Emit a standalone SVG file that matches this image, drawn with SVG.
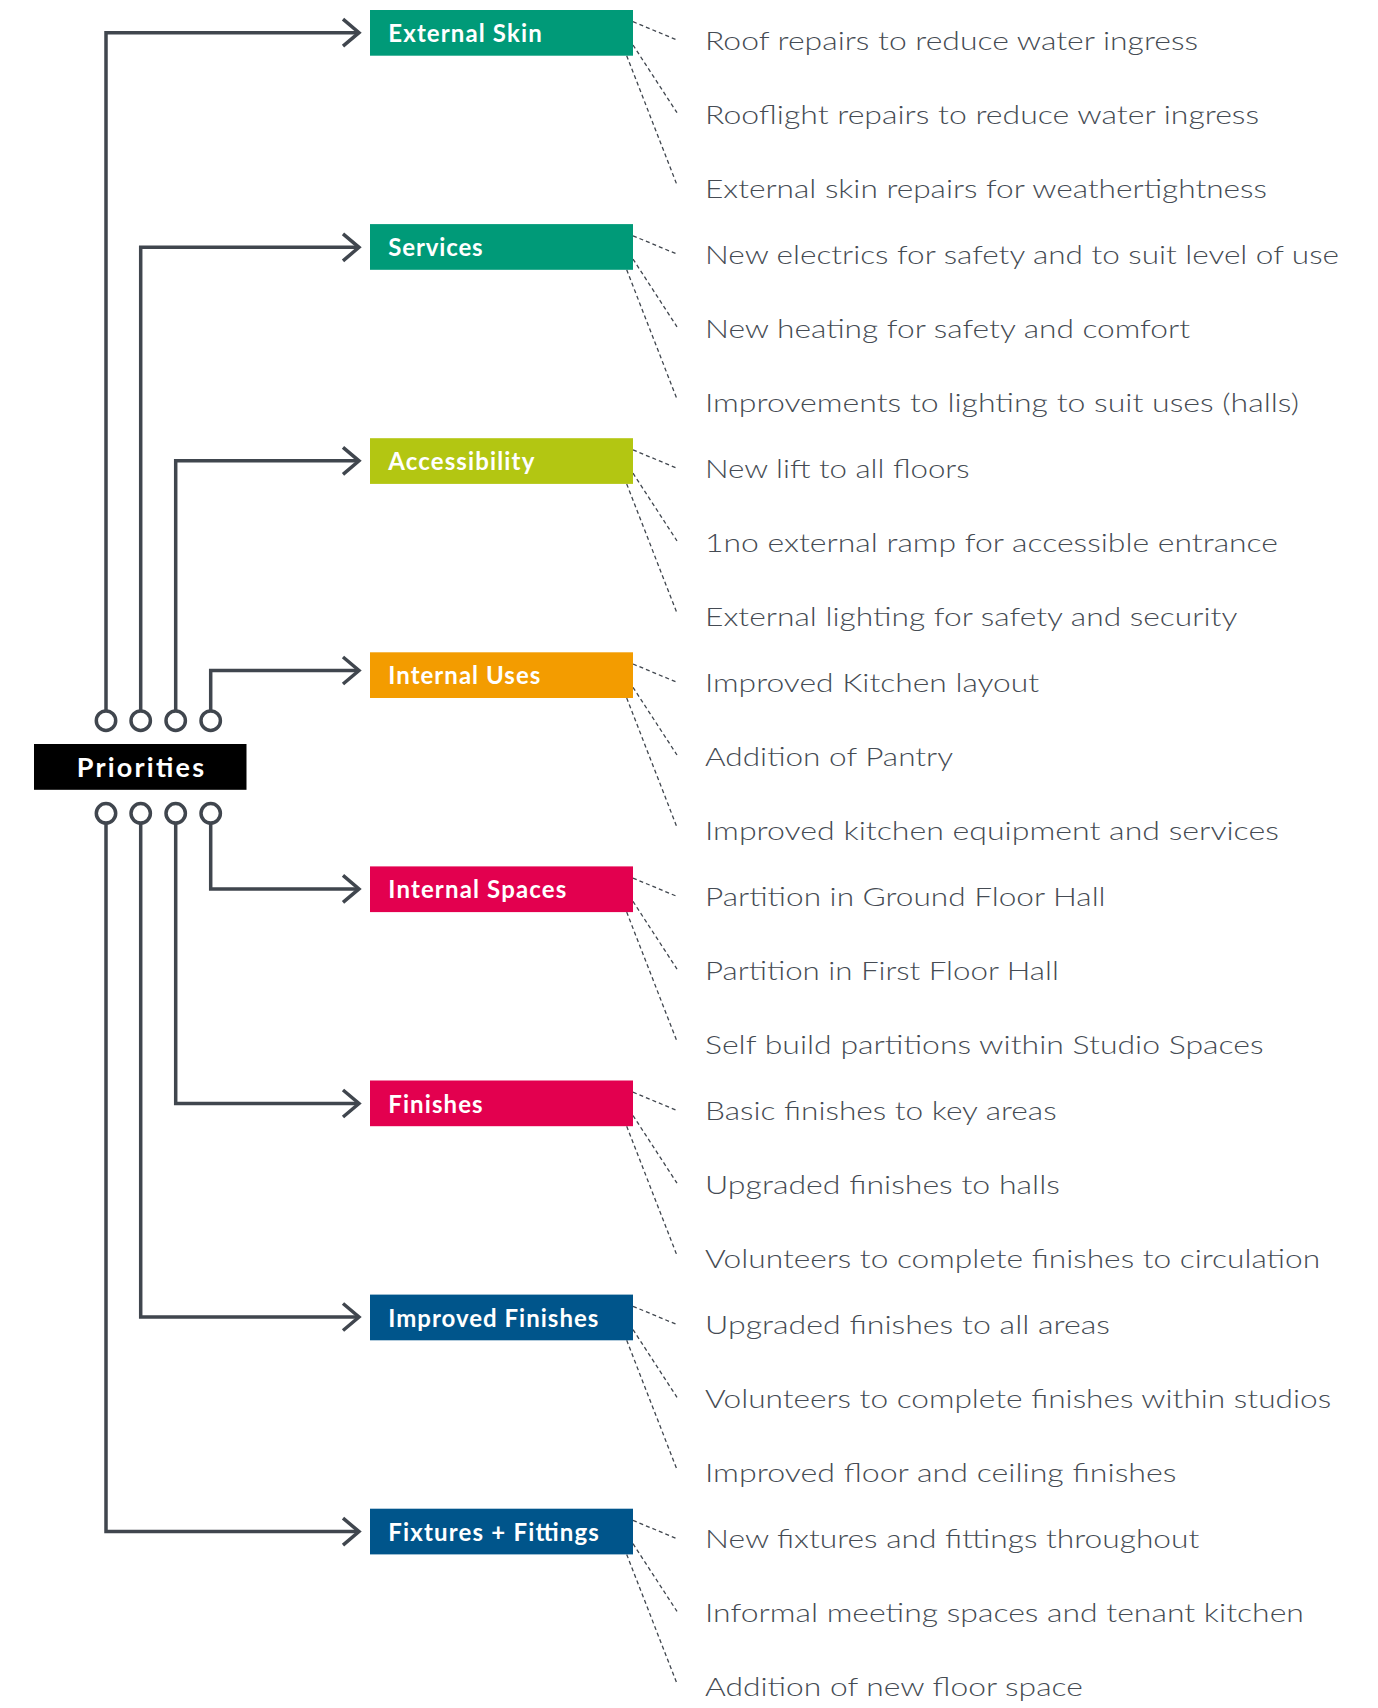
<svg xmlns="http://www.w3.org/2000/svg" width="1378" height="1708" viewBox="0 0 1378 1708">
<style>
.bg{fill:#ffffff}
.wire{fill:none;stroke:#40464e;stroke-width:3.5;stroke-linejoin:miter}
.pin{fill:#ffffff;stroke:#40464e;stroke-width:3.5}
.dash{fill:none;stroke:#40464e;stroke-width:1.3;stroke-dasharray:4 3}
.lbl{font-family:Lato,"Open Sans","Liberation Sans",sans-serif;font-weight:700;font-size:24px;fill:#ffffff}
.root{font-family:Lato,"Open Sans","Liberation Sans",sans-serif;font-weight:700;font-size:27px;fill:#ffffff}
.item{font-family:Lato,"Open Sans","Liberation Sans",sans-serif;font-weight:300;font-size:25.5px;fill:#454b53}
.green{fill:#009a78}.lime{fill:#b3c612}.orange{fill:#f39c00}.red{fill:#e3004f}.blue{fill:#00558b}
</style>
<defs>
<marker id="chev" markerUnits="userSpaceOnUse" markerWidth="24" markerHeight="34" refX="20" refY="16" orient="auto" viewBox="0 0 24 34">
<path d="M4,2.5 L20,16 L4,29.5" fill="none" stroke="#40464e" stroke-width="3.5"/>
</marker>
</defs>
<rect class="bg" x="0" y="0" width="1378" height="1708"/>

<g id="connectors">
<path class="wire" marker-end="url(#chev)" d="M106,711 V32.7 H359"/>
<path class="wire" marker-end="url(#chev)" d="M140.7,711 V247.3 H359"/>
<path class="wire" marker-end="url(#chev)" d="M175.7,711 V460.8 H359"/>
<path class="wire" marker-end="url(#chev)" d="M210.7,711 V670.5 H359"/>
<path class="wire" marker-end="url(#chev)" d="M210.7,823 V888.9 H359"/>
<path class="wire" marker-end="url(#chev)" d="M175.7,823 V1103.5 H359"/>
<path class="wire" marker-end="url(#chev)" d="M140.7,823 V1317 H359"/>
<path class="wire" marker-end="url(#chev)" d="M106,823 V1531.6 H359"/>
<circle class="pin" cx="106" cy="720.7" r="9.7"/>
<circle class="pin" cx="140.7" cy="720.7" r="9.7"/>
<circle class="pin" cx="175.7" cy="720.7" r="9.7"/>
<circle class="pin" cx="210.7" cy="720.7" r="9.7"/>
<circle class="pin" cx="106" cy="813.3" r="9.7"/>
<circle class="pin" cx="140.7" cy="813.3" r="9.7"/>
<circle class="pin" cx="175.7" cy="813.3" r="9.7"/>
<circle class="pin" cx="210.7" cy="813.3" r="9.7"/>
<g id="dashes">
<path class="dash" d="M633,21.7 L677,40 M633,45 L677,112.7 M626.7,55.7 L677,185"/>
<path class="dash" d="M633,235.8 L677,254.1 M633,259.1 L677,326.8 M626.7,269.8 L677,399.1"/>
<path class="dash" d="M633,449.9 L677,468.2 M633,473.2 L677,540.9 M626.7,483.9 L677,613.2"/>
<path class="dash" d="M633,664 L677,682.3 M633,687.3 L677,755 M626.7,698 L677,827.3"/>
<path class="dash" d="M633,878.1 L677,896.4 M633,901.4 L677,969.1 M626.7,912.1 L677,1041.4"/>
<path class="dash" d="M633,1092.2 L677,1110.5 M633,1115.5 L677,1183.2 M626.7,1126.2 L677,1255.5"/>
<path class="dash" d="M633,1306.3 L677,1324.6 M633,1329.6 L677,1397.3 M626.7,1340.3 L677,1469.6"/>
<path class="dash" d="M633,1520.4 L677,1538.7 M633,1543.7 L677,1611.4 M626.7,1554.4 L677,1683.7"/>
</g>
</g>

<g id="priorities">
<rect x="34" y="744" width="212.5" height="45.8" fill="#000000"/>
<text class="root" x="76.7" y="776.7" textLength="127.3" lengthAdjust="spacing">Priorities</text>
</g>

<g id="external-skin">
<rect class="green" x="370" y="10" width="263" height="45.7"/>
<text class="lbl" x="388.3" y="42.3" textLength="153.4" lengthAdjust="spacing">External Skin</text>
<text class="item" x="705" y="49.5" textLength="493" lengthAdjust="spacingAndGlyphs">Roof repairs to reduce water ingress</text>
<text class="item" x="705" y="123.5" textLength="554" lengthAdjust="spacingAndGlyphs">Rooflight repairs to reduce water ingress</text>
<text class="item" x="705" y="197.6" textLength="562" lengthAdjust="spacingAndGlyphs">External skin repairs for weathertightness</text>
</g>

<g id="services">
<rect class="green" x="370" y="224.1" width="263" height="45.7"/>
<text class="lbl" x="388.3" y="256.4" textLength="94.3" lengthAdjust="spacing">Services</text>
<text class="item" x="705" y="263.6" textLength="634" lengthAdjust="spacingAndGlyphs">New electrics for safety and to suit level of use</text>
<text class="item" x="705" y="337.6" textLength="485" lengthAdjust="spacingAndGlyphs">New heating for safety and comfort</text>
<text class="item" x="705" y="411.7" textLength="594" lengthAdjust="spacingAndGlyphs">Improvements to lighting to suit uses (halls)</text>
</g>

<g id="accessibility">
<rect class="lime" x="370" y="438.2" width="263" height="45.7"/>
<text class="lbl" x="388.3" y="469.6" textLength="146" lengthAdjust="spacing">Accessibility</text>
<text class="item" x="705" y="477.7" textLength="264.5" lengthAdjust="spacingAndGlyphs">New lift to all floors</text>
<text class="item" x="705" y="551.7" textLength="573" lengthAdjust="spacingAndGlyphs">1no external ramp for accessible entrance</text>
<text class="item" x="705" y="625.8" textLength="532.4" lengthAdjust="spacingAndGlyphs">External lighting for safety and security</text>
</g>

<g id="internal-uses">
<rect class="orange" x="370" y="652.3" width="263" height="45.7"/>
<text class="lbl" x="388.3" y="684.3" textLength="152" lengthAdjust="spacing">Internal Uses</text>
<text class="item" x="705" y="691.8" textLength="334.2" lengthAdjust="spacingAndGlyphs">Improved Kitchen layout</text>
<text class="item" x="705" y="765.8" textLength="248.1" lengthAdjust="spacingAndGlyphs">Addition of Pantry</text>
<text class="item" x="705" y="839.9" textLength="573.8" lengthAdjust="spacingAndGlyphs">Improved kitchen equipment and services</text>
</g>

<g id="internal-spaces">
<rect class="red" x="370" y="866.4" width="263" height="45.7"/>
<text class="lbl" x="388.3" y="898.4" textLength="178" lengthAdjust="spacing">Internal Spaces</text>
<text class="item" x="705" y="905.9" textLength="400.6" lengthAdjust="spacingAndGlyphs">Partition in Ground Floor Hall</text>
<text class="item" x="705" y="979.9" textLength="353.8" lengthAdjust="spacingAndGlyphs">Partition in First Floor Hall</text>
<text class="item" x="705" y="1054" textLength="558.6" lengthAdjust="spacingAndGlyphs">Self build partitions within Studio Spaces</text>
</g>

<g id="finishes">
<rect class="red" x="370" y="1080.5" width="263" height="45.7"/>
<text class="lbl" x="388.3" y="1112.5" textLength="94.3" lengthAdjust="spacing">Finishes</text>
<text class="item" x="705" y="1120" textLength="351.6" lengthAdjust="spacingAndGlyphs">Basic finishes to key areas</text>
<text class="item" x="705" y="1194" textLength="354.9" lengthAdjust="spacingAndGlyphs">Upgraded finishes to halls</text>
<text class="item" x="705" y="1268.1" textLength="615.2" lengthAdjust="spacingAndGlyphs">Volunteers to complete finishes to circulation</text>
</g>

<g id="improved-finishes">
<rect class="blue" x="370" y="1294.6" width="263" height="45.7"/>
<text class="lbl" x="388.3" y="1326.6" textLength="210" lengthAdjust="spacing">Improved Finishes</text>
<text class="item" x="705" y="1334.1" textLength="405" lengthAdjust="spacingAndGlyphs">Upgraded finishes to all areas</text>
<text class="item" x="705" y="1408.1" textLength="626.1" lengthAdjust="spacingAndGlyphs">Volunteers to complete finishes within studios</text>
<text class="item" x="705" y="1482.2" textLength="471.4" lengthAdjust="spacingAndGlyphs">Improved floor and ceiling finishes</text>
</g>

<g id="fixtures-fittings">
<rect class="blue" x="370" y="1508.7" width="263" height="45.7"/>
<text class="lbl" x="388.3" y="1540.7" textLength="210.6" lengthAdjust="spacing">Fixtures + Fittings</text>
<text class="item" x="705" y="1548.2" textLength="494.3" lengthAdjust="spacingAndGlyphs">New fixtures and fittings throughout</text>
<text class="item" x="705" y="1622.2" textLength="598.9" lengthAdjust="spacingAndGlyphs">Informal meeting spaces and tenant kitchen</text>
<text class="item" x="705" y="1696.3" textLength="377.8" lengthAdjust="spacingAndGlyphs">Addition of new floor space</text>
</g>
</svg>
